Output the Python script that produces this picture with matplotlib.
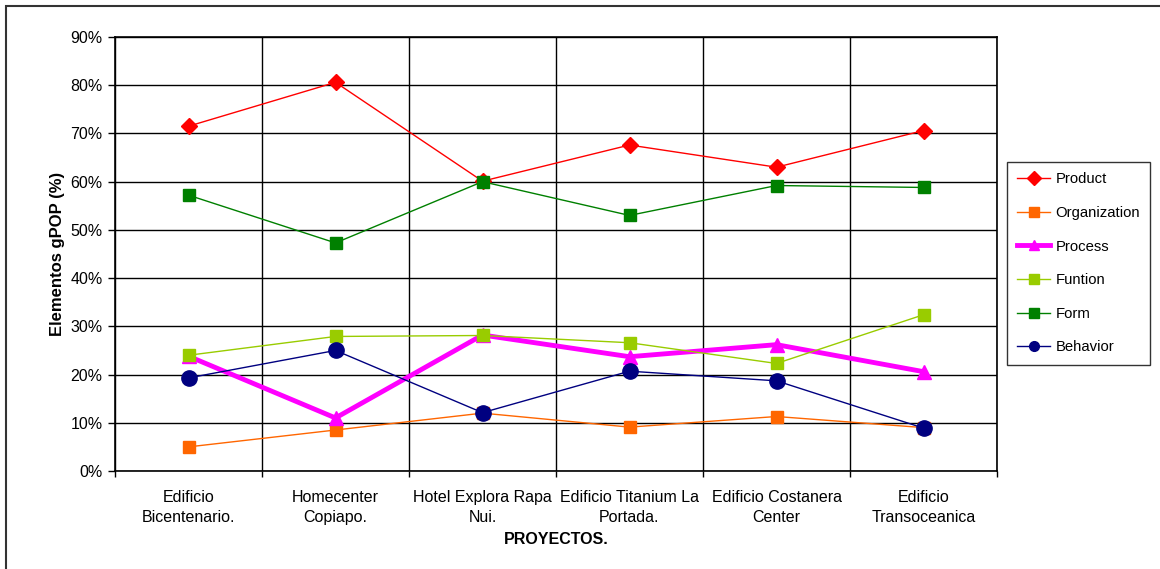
import matplotlib
matplotlib.use("Agg")
import matplotlib.pyplot as plt
from matplotlib.patches import Rectangle
from matplotlib.ticker import FixedLocator, FuncFormatter

plt.rcParams['font.family'] = ['Liberation Sans', 'DejaVu Sans']

proyectos = ["Edificio\nBicentenario.", "Homecenter\nCopiapo.", "Hotel Explora Rapa\nNui.",
             "Edificio Titanium La\nPortada.", "Edificio Costanera\nCenter", "Edificio\nTransoceanica"]

product = [71.5, 80.6, 60.1, 67.6, 63.0, 70.6]
organization = [5.0, 8.5, 12.0, 9.1, 11.3, 9.0]
process = [23.8, 11.0, 28.2, 23.7, 26.2, 20.6]
funtion = [24.0, 27.9, 28.1, 26.6, 22.3, 32.4]
form = [57.2, 47.3, 60.0, 53.0, 59.2, 58.8]
behavior = [19.3, 25.0, 12.1, 20.7, 18.7, 8.9]

series = [
    ("Product", product, "#FF0000", "D", 1.0, 8),
    ("Organization", organization, "#FF6600", "s", 1.0, 9),
    ("Process", process, "#FF00FF", "^", 3.5, 10),
    ("Funtion", funtion, "#99CC00", "s", 1.0, 9),
    ("Form", form, "#008000", "s", 1.0, 9),
    ("Behavior", behavior, "#000080", "o", 1.0, 11),
]

fig = plt.figure(figsize=(11.6, 5.69), dpi=100)
ax = fig.add_axes([115 / 1160, 1 - 471 / 569, 882 / 1160, 434 / 569])

x = list(range(len(proyectos)))
for name, vals, color, mk, lw, ms in series:
    ax.plot(x, vals, color=color, lw=lw, marker=mk, markersize=ms,
            markeredgecolor=color, markerfacecolor=color, label=name, zorder=3)

ax.set_xlim(-0.5, len(proyectos) - 0.5)
ax.set_ylim(0, 90)
ax.yaxis.set_major_locator(FixedLocator(range(0, 91, 10)))
ax.yaxis.set_major_formatter(FuncFormatter(lambda v, p: f"{int(v)}%"))
ax.set_xticks([i + 0.5 for i in range(-1, len(proyectos))])
ax.set_xticklabels([])
ax.set_xticks(x, minor=True)
ax.set_xticklabels(proyectos, minor=True, fontsize=11.5)
for t in ax.get_xticklabels(minor=True):
    t.set_linespacing(1.4)
ax.tick_params(axis='x', which='minor', length=0, pad=14)
ax.tick_params(axis='x', which='major', length=4, width=1, color='black')
ax.tick_params(axis='y', length=5, width=1, labelsize=11.5, pad=4)
ax.grid(True, which='major', color='black', lw=1)
for s in ax.spines.values():
    s.set_color('black')
    s.set_linewidth(1.2)

ax.set_ylabel("Elementos gPOP (%)", fontsize=12, fontweight='bold', labelpad=4)
ax.set_xlabel("PROYECTOS.", fontsize=11.5, fontweight='bold', labelpad=5)

leg = ax.legend(loc='upper left', bbox_to_anchor=(1007 / 1160, 1 - 162 / 569),
                bbox_transform=fig.transFigure, frameon=True, fancybox=False,
                edgecolor='black', fontsize=10.7, labelspacing=1.32,
                handlelength=2.2, borderpad=0.7, handletextpad=0.35,
                borderaxespad=0)
leg.get_frame().set_linewidth(1)
for h in leg.legend_handles:
    h.set_markersize(7)

fig.patches.append(Rectangle((6 / 1160, -10 / 569), 1200 / 1160, 573 / 569,
                             transform=fig.transFigure, fill=False,
                             edgecolor='#333333', lw=1.5))

fig.savefig("out.png", dpi=100)
